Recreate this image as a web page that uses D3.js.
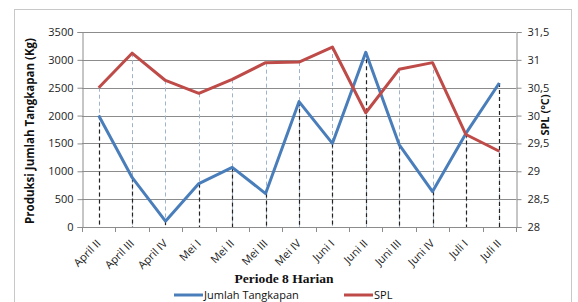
<!DOCTYPE html>
<html><head><meta charset="utf-8">
<script src="https://cdn.jsdelivr.net/npm/d3@7"></script>
<style>body{margin:0;background:#fff}svg{display:block}</style>
</head><body>
<svg id="c" width="578" height="302"></svg>
<script>
const categories = ["April II","April III","April IV","Mei I","Mei II","Mei III","Mei IV","Juni I","Juni II","Juni III","Juni IV","Juli I","Juli II"];
const jumlah = [2000, 890, 105, 780, 1070, 600, 2250, 1500, 3135, 1480, 635, 1680, 2585];
const spl = [30.5, 31.12, 30.63, 30.4, 30.65, 30.95, 30.96, 31.23, 30.05, 30.83, 30.95, 29.66, 29.36];
const leftTicks = [0,500,1000,1500,2000,2500,3000,3500];
const rightTicks = [28,28.5,29,29.5,30,30.5,31,31.5];

const svg = d3.select("#c");
const L=82, R=516, T=32, B=227;
const font = "'Open Sans', 'Liberation Sans', sans-serif";

svg.append("rect").attr("x",14.5).attr("y",9.5).attr("width",557).attr("height",300).attr("fill","#fff").attr("stroke","#c8c8c8");

const x = d3.scaleBand().domain(categories).range([L,R]);
const yL = d3.scaleLinear().domain([0,3500]).range([B,T]);
const yR = d3.scaleLinear().domain([28,31.5]).range([B,T]);
const cx = d => x(d)+x.bandwidth()/2;

// gridlines
svg.append("g").selectAll("line").data(leftTicks).join("line")
  .attr("x1",L).attr("x2",R).attr("y1",d=>Math.round(yL(d))+0.5).attr("y2",d=>Math.round(yL(d))+0.5)
  .attr("stroke","#8c8c8c").attr("stroke-width",1);

// drop lines SPL (light)
svg.append("g").selectAll("line").data(categories).join("line")
  .attr("x1",d=>Math.round(cx(d))+0.5).attr("x2",d=>Math.round(cx(d))+0.5)
  .attr("y1",(d,i)=>yR(spl[i])).attr("y2",B)
  .attr("stroke","#9fb4cc").attr("stroke-width",1).attr("stroke-dasharray","4,3");
// drop lines Jumlah (dark)
svg.append("g").selectAll("line").data(categories).join("line")
  .attr("x1",d=>Math.round(cx(d))+0.5).attr("x2",d=>Math.round(cx(d))+0.5)
  .attr("y1",(d,i)=>yL(jumlah[i])).attr("y2",B)
  .attr("stroke","#222").attr("stroke-width",1.2).attr("stroke-dasharray","4,3");

// axes
const axL = svg.append("g").attr("transform",`translate(${L+0.5},0)`)
  .call(d3.axisLeft(yL).tickValues(leftTicks).tickSize(5).tickPadding(4).tickFormat(d3.format("d")));
const axR = svg.append("g").attr("transform",`translate(${R+0.5},0)`)
  .call(d3.axisRight(yR).tickValues(rightTicks).tickSize(5).tickPadding(6).tickFormat(d=>String(d).replace(".",",")));
const axB = svg.append("g").attr("transform",`translate(0,${B+0.5})`)
  .call(d3.axisBottom(x).tickSize(0).tickPadding(0));
// category boundary ticks
svg.append("g").selectAll("line").data(d3.range(categories.length+1)).join("line")
  .attr("x1",i=>Math.round(L+i*x.step())+0.5).attr("x2",i=>Math.round(L+i*x.step())+0.5)
  .attr("y1",B).attr("y2",B+5).attr("stroke","#8c8c8c");
[axL,axR,axB].forEach(a=>{a.select(".domain").attr("stroke","#8c8c8c");a.selectAll(".tick line").attr("stroke","#8c8c8c");
  a.selectAll("text").attr("font-family",font).attr("font-size",11).attr("fill","#222");});
axB.selectAll(".domain").remove();
svg.append("line").attr("x1",L).attr("x2",R).attr("y1",B+0.5).attr("y2",B+0.5).attr("stroke","#8c8c8c");
axB.selectAll(".tick text").attr("font-size",11).attr("text-anchor","end").attr("y",0).attr("dy","0.35em")
  .attr("transform","translate(0,14) rotate(-45)");

// lines
svg.append("path").datum(categories).attr("fill","none").attr("stroke","#4a7ebb").attr("stroke-width",3).attr("stroke-linejoin","round")
  .attr("d",d3.line().x(d=>cx(d)).y((d,i)=>yL(jumlah[i])));
svg.append("path").datum(categories).attr("fill","none").attr("stroke","#be4b48").attr("stroke-width",3).attr("stroke-linejoin","round")
  .attr("d",d3.line().x(d=>cx(d)).y((d,i)=>yR(spl[i])));

// axis titles
svg.append("text").attr("transform",`translate(34,131) rotate(-90)`).attr("text-anchor","middle")
  .attr("font-family",font).attr("font-weight","bold").attr("font-size",11.5).attr("fill","#111")
  .text("Produksi Jumlah Tangkapan  (Kg)");
svg.append("text").attr("transform",`translate(549,115) rotate(-90)`).attr("text-anchor","middle")
  .attr("font-family",font).attr("font-weight","bold").attr("font-size",11).attr("fill","#111")
  .text("SPL (°C)");
svg.append("text").attr("x",284).attr("y",283).attr("text-anchor","middle")
  .attr("font-family","'Liberation Serif','DejaVu Serif',serif").attr("font-weight","bold").attr("font-size",13.5).attr("fill","#111")
  .text("Periode 8 Harian");

// legend
const leg = [{n:"Jumlah Tangkapan",c:"#4a7ebb",x:174},{n:"SPL",c:"#be4b48",x:344}];
const lg = svg.append("g").selectAll("g").data(leg).join("g").attr("transform",d=>`translate(${d.x},295)`);
lg.append("line").attr("x1",0).attr("x2",29).attr("stroke",d=>d.c).attr("stroke-width",3);
lg.append("text").attr("x",30).attr("dy","0.35em").attr("font-family",font).attr("font-size",11).attr("fill","#111").text(d=>d.n);
</script>
</body></html>
